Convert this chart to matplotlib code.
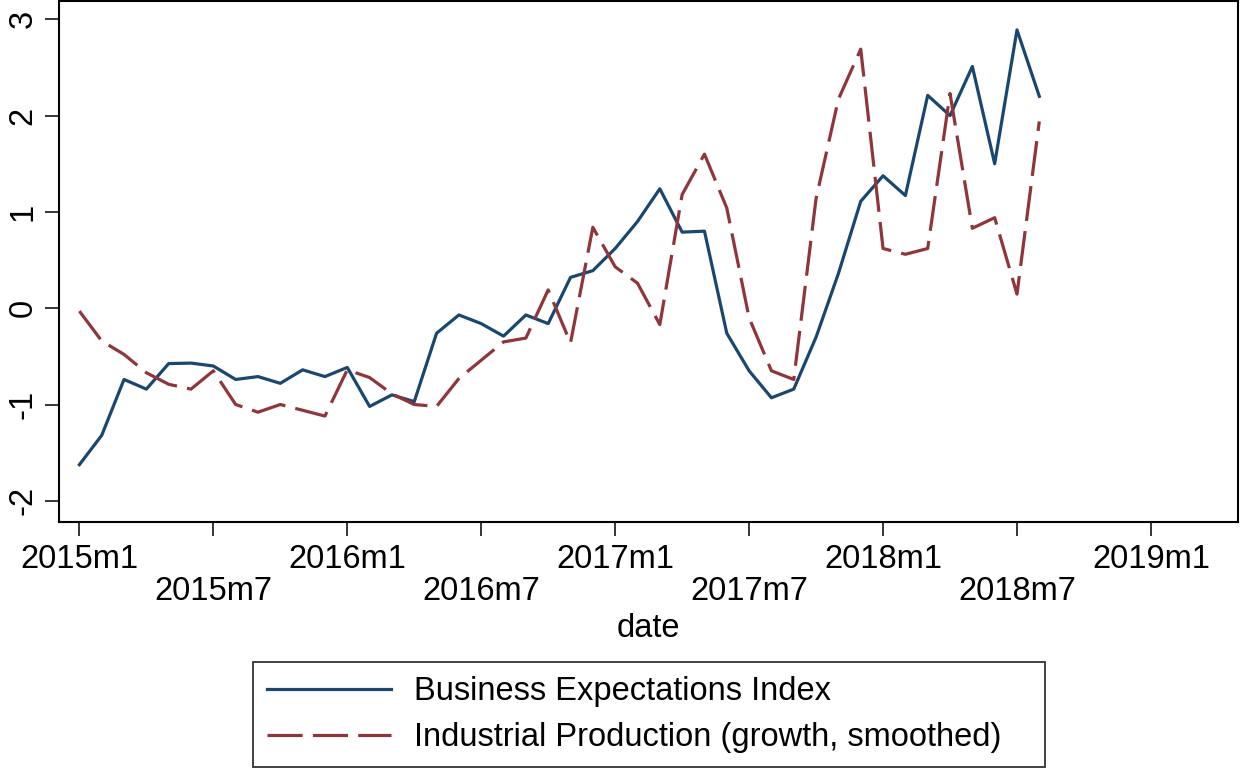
import numpy as np
import matplotlib
matplotlib.use("Agg")
import matplotlib.pyplot as plt

plt.rcParams['font.family'] = ['Liberation Sans', 'DejaVu Sans']

# monthly data, 2015m1 .. 2018m8
months = np.arange(44)
business_expectations = [
    -1.625, -1.32, -0.74, -0.84, -0.575, -0.57, -0.60, -0.74, -0.71, -0.78, -0.64, -0.71,
    -0.615, -1.02, -0.90, -0.97, -0.26, -0.07, -0.16, -0.29, -0.07, -0.16, 0.32, 0.39,
    0.62, 0.90, 1.24, 0.79, 0.80, -0.26, -0.65, -0.93, -0.84, -0.30, 0.36, 1.11,
    1.375, 1.17, 2.21, 2.00, 2.51, 1.50, 2.89, 2.20]
industrial_production = [
    -0.03, -0.34, -0.48, -0.67, -0.79, -0.84, -0.65, -1.00, -1.08, -1.00, -1.06, -1.12,
    -0.64, -0.72, -0.89, -1.00, -1.02, -0.73, -0.54, -0.35, -0.31, 0.19, -0.36, 0.84,
    0.43, 0.26, -0.17, 1.18, 1.60, 1.04, -0.10, -0.65, -0.74, 1.14, 2.17, 2.69,
    0.62, 0.56, 0.62, 2.23, 0.83, 0.94, 0.146, 1.94]

tick_pos = [0, 6, 12, 18, 24, 30, 36, 42, 48]
tick_labels = ["2015m1", "2015m7", "2016m1", "2016m7", "2017m1",
               "2017m7", "2018m1", "2018m7", "2019m1"]
yticks = [-2, -1, 0, 1, 2, 3]

navy = "#1a476f"
maroon = "#90353b"
fs = 23.5

fig = plt.figure(figsize=(12.4, 7.68), dpi=100)
ax = fig.add_axes([59.3 / 1240, 1 - 522 / 768, (1238 - 59.3) / 1240, (522 - 1) / 768])

ax.plot(months, business_expectations, color=navy, lw=2.3,
        label="Business Expectations Index")
ax.plot(months, industrial_production, color=maroon, lw=2.3, dashes=(11, 3.2),
        label="Industrial Production (growth, smoothed)")

ax.set_xlim(-0.9, 51.9)
ax.set_ylim(-2.22, 3.19)

ax.set_xticks(tick_pos)
ax.set_xticklabels([lab if i % 2 == 0 else "\n" + lab for i, lab in enumerate(tick_labels)])
for lab in ax.get_xticklabels():
    lab.set_linespacing(1.05)
ax.set_yticks(yticks)
ax.set_yticklabels([str(v) for v in yticks], rotation=90, va="center")

ax.tick_params(axis="both", labelsize=fs, length=10, width=1.1, direction="out")
ax.tick_params(axis="x", pad=6)
ax.tick_params(axis="y", pad=5)
for s in ax.spines.values():
    s.set_linewidth(1.5)

ax.set_xlabel("date", fontsize=fs, labelpad=4)

# legend box spans x 253..1045 px in the reference, text left-aligned
leg = fig.legend(loc="lower left",
                 bbox_to_anchor=(253 / 1240, 1 / 768, (1045 - 253) / 1240, 0.1),
                 mode="expand", fontsize=fs, frameon=True, fancybox=False,
                 edgecolor="black", handlelength=3.8, handletextpad=0.7,
                 labelspacing=0.47, borderpad=0.42, borderaxespad=0)
leg.get_frame().set_linewidth(1.3)

fig.savefig("out.png", dpi=100)
